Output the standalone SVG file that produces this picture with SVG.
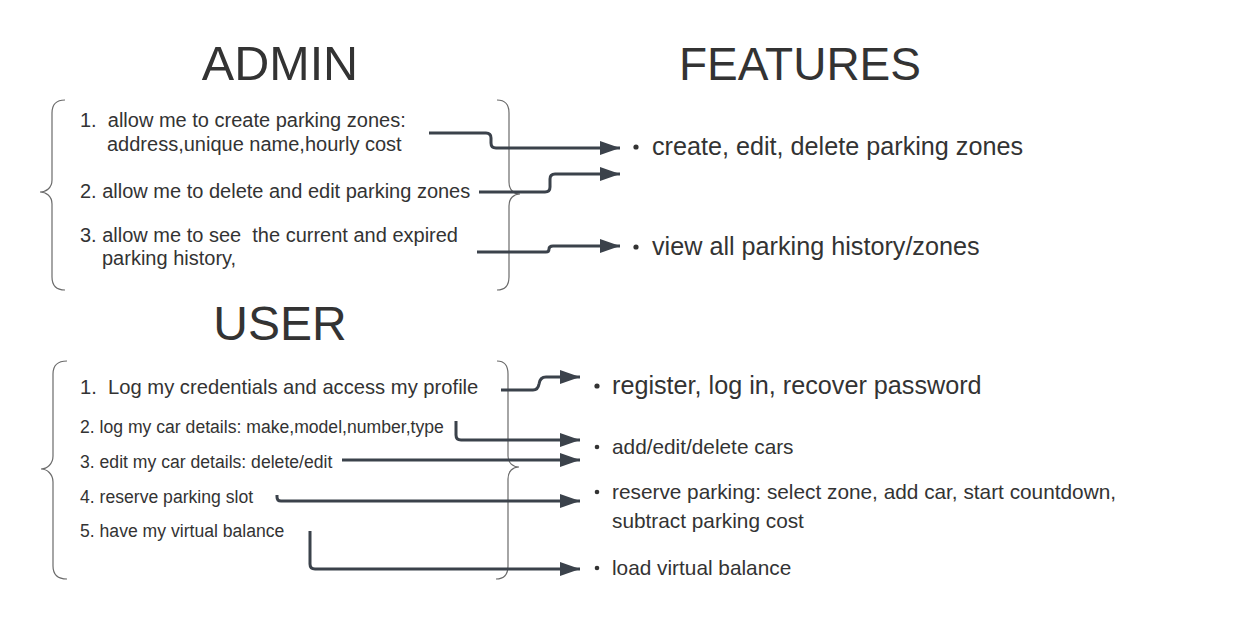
<svg xmlns="http://www.w3.org/2000/svg" width="1240" height="640" viewBox="0 0 1240 640" xml:space="preserve">
<style>
text{font-family:"Liberation Sans",Arial,sans-serif;fill:#333;white-space:pre}
.title{text-anchor:middle}
.brace{fill:none;stroke:#6b6b6b;stroke-width:1.2}
.conn{fill:none;stroke:#3b424b;stroke-width:3;stroke-linejoin:round}
.bul{fill:#333}
</style>
<defs>
<marker id="arr" markerUnits="userSpaceOnUse" markerWidth="22" markerHeight="16" refX="20" refY="7" orient="auto">
<path d="M0,0 L20,7 L0,14 Z" fill="#3b424b"/>
</marker>
</defs>
<rect width="1240" height="640" fill="#fff"/>
<g id="titles">
<text class="title" x="280" y="80" font-size="48.5">ADMIN</text>
<text class="title" x="800" y="80" font-size="46">FEATURES</text>
<text class="title" x="280" y="340" font-size="48">USER</text>
</g>
<g id="admin-group">
<path class="brace" d="M65,100 Q52,100 52,113 L52,180 C52,188 46,192 40,192 C46,192 52,196 52,204 L52,277 Q52,290 65,290"/>
<path class="brace" d="M497,100 Q509,100 509,113 L509,182 C509,190 514,194 520,194 C514,194 509,198 509,206 L509,277 Q509,290 497,290"/>
<text x="80" y="127" font-size="20">1.  allow me to create parking zones:</text>
<text x="107" y="151" font-size="20">address,unique name,hourly cost</text>
<text x="80" y="198" font-size="20">2. allow me to delete and edit parking zones</text>
<text x="80" y="242" font-size="20">3. allow me to see  the current and expired</text>
<text x="102" y="265" font-size="20">parking history,</text>
</g>
<g id="admin-features">
<circle class="bul" cx="636" cy="147" r="2.6"/>
<text x="652" y="155" font-size="25.2">create, edit, delete parking zones</text>
<circle class="bul" cx="636" cy="247" r="2.6"/>
<text x="652" y="255" font-size="25.2">view all parking history/zones</text>
</g>
<g id="user-group">
<path class="brace" d="M67,361 Q53,361 53,374 L53,456 C53,464 47,469 41,469 C47,469 53,474 53,482 L53,566 Q53,579 67,579"/>
<path class="brace" d="M497,361 Q508,361 508,374 L508,456 C508,463 513,467 519,467 C513,467 508,471 508,479 L508,566 Q508,579 496,579"/>
<text x="80" y="394" font-size="20.2">1.  Log my credentials and access my profile</text>
<text x="80" y="433" font-size="17.6">2. log my car details: make,model,number,type</text>
<text x="80" y="468" font-size="17.6">3. edit my car details: delete/edit</text>
<text x="80" y="503" font-size="17.6">4. reserve parking slot</text>
<text x="80" y="537" font-size="17.6">5. have my virtual balance</text>
</g>
<g id="user-features">
<circle class="bul" cx="597" cy="386" r="2.6"/>
<text x="612" y="394" font-size="25.2">register, log in, recover password</text>
<circle class="bul" cx="597" cy="447" r="2.3"/>
<text x="612" y="454" font-size="20.8">add/edit/delete cars</text>
<circle class="bul" cx="597" cy="492" r="2.3"/>
<text x="612" y="499" font-size="20.8">reserve parking: select zone, add car, start countdown,</text>
<text x="612" y="528" font-size="20.8">subtract parking cost</text>
<circle class="bul" cx="597" cy="568" r="2.3"/>
<text x="612" y="575" font-size="20.8">load virtual balance</text>
</g>
<g id="connectors">
<path class="conn" marker-end="url(#arr)" d="M429,133 L486,133 Q491,133 491,138 L491,143 Q491,148 496,148 L620,148"/>
<path class="conn" marker-end="url(#arr)" d="M479,192 L545,192 Q550,192 550,187 L550,179 Q550,174 555,174 L620,174"/>
<path class="conn" marker-end="url(#arr)" d="M477,252 L546,252 Q549,252 549,249 Q549,246 553,246 L620,246"/>
<path class="conn" marker-end="url(#arr)" d="M501,390 L533,390 Q538,390 539,384 Q540,377 546,377 L580,377"/>
<path class="conn" marker-end="url(#arr)" d="M456,421 L456,435 Q456,440 461,440 L580,440"/>
<path class="conn" marker-end="url(#arr)" d="M342,460 L580,460"/>
<path class="conn" marker-end="url(#arr)" d="M277,495 L277,497 Q277,501 281,501 L580,501"/>
<path class="conn" marker-end="url(#arr)" d="M310,531 L310,564 Q310,569 315,569 L580,569"/>
</g>
</svg>
